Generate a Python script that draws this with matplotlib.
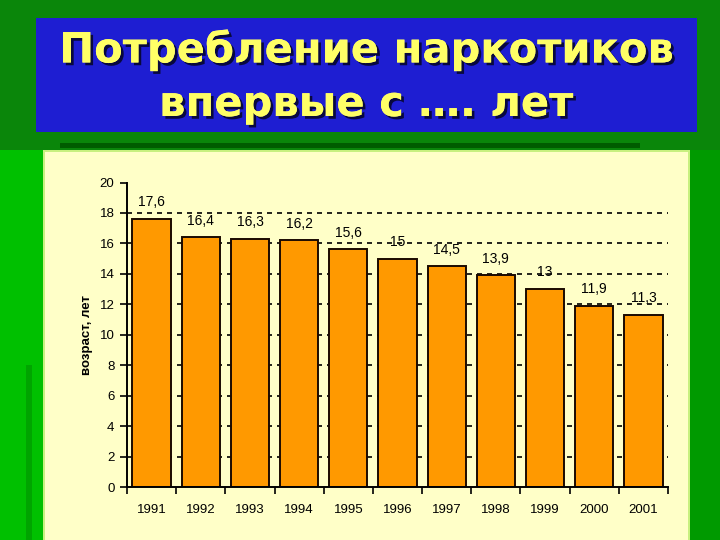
import numpy as np
import matplotlib.pyplot as plt
from matplotlib.patches import Rectangle
import matplotlib.patheffects as pe

years = ['1991', '1992', '1993', '1994', '1995', '1996', '1997', '1998', '1999', '2000', '2001']
ages = [17.6, 16.4, 16.3, 16.2, 15.6, 15.0, 14.5, 13.9, 13.0, 11.9, 11.3]
labels = ['17,6', '16,4', '16,3', '16,2', '15,6', '15', '14,5', '13,9', '13', '11,9', '11,3']
yticks = [0, 2, 4, 6, 8, 10, 12, 14, 16, 18, 20]

title = 'Потребление наркотиков\nвпервые с …. лет'
ylabel = 'возраст, лет'

W, H = 720, 540
plt.rcParams['font.family'] = ['Liberation Sans', 'DejaVu Sans']

fig = plt.figure(figsize=(7.2, 5.4), dpi=100, facecolor='#0a860a')


def box(x, y, w, h, color, z=0):
    # pixel box (top-left origin) -> figure coords
    r = Rectangle((x / W, 1 - (y + h) / H), w / W, h / H, transform=fig.transFigure,
                  facecolor=color, edgecolor='none', zorder=z)
    fig.add_artist(r)


# slide background pieces
box(0, 150, 43, 390, '#00c000')
box(26, 365, 6, 175, '#00a400')
box(690, 150, 30, 390, '#009a00')
box(36, 18, 661, 114, '#1e1ed2')
box(60, 143, 580, 5, '#005c00')
box(43, 150, 647, 390, '#c8f080')
box(45, 152, 643, 388, '#ffffc8')

fig.text(366 / W, 1 - 77 / H, title, ha='center', va='center', fontsize=30,
         fontweight='bold', color='#ffff66', linespacing=1.35,
         family=['DejaVu Sans'],
         path_effects=[pe.withSimplePatchShadow(offset=(2, -2), shadow_rgbFace='black', alpha=0.7),
                       pe.Normal()])

ax = fig.add_axes([127 / W, 1 - 487 / H, 541 / W, 304.5 / H])
ax.set_facecolor('none')
x = np.arange(len(years))
ax.bar(x, ages, width=0.78, color='#ff9900', edgecolor='#1a0a00', linewidth=1.4, zorder=3)

for t in yticks[1:-1]:
    ax.axhline(t, color='black', linestyle=(0, (3, 3)), linewidth=1.2, zorder=1)

for xi, v, lab in zip(x, ages, labels):
    ax.annotate(lab, (xi, v), xytext=(0, 7), textcoords='offset points',
                ha='center', va='bottom', fontsize=10, color='black', zorder=4)

ax.set_xlim(-0.5, len(years) - 0.5)
ax.set_ylim(0, 20)
ax.set_yticks(yticks)
ax.set_xticks(x)
ax.set_xticklabels(years)
ax.set_xticks(np.arange(len(years) + 1) - 0.5, minor=True)
ax.tick_params(axis='x', which='major', length=0, pad=12, labelsize=9.5)
ax.tick_params(axis='x', which='minor', length=5, width=1.2, direction='out')
ax.tick_params(axis='y', length=5, width=1.2, direction='out', labelsize=9.5, pad=4)

for s in ['top', 'right']:
    ax.spines[s].set_visible(False)
for s in ['left', 'bottom']:
    ax.spines[s].set_linewidth(1.4)
    ax.spines[s].set_zorder(5)

ax.set_ylabel(ylabel, fontsize=9.5, fontweight='bold', labelpad=5)

fig.savefig('out.png', dpi=100, facecolor=fig.get_facecolor())
